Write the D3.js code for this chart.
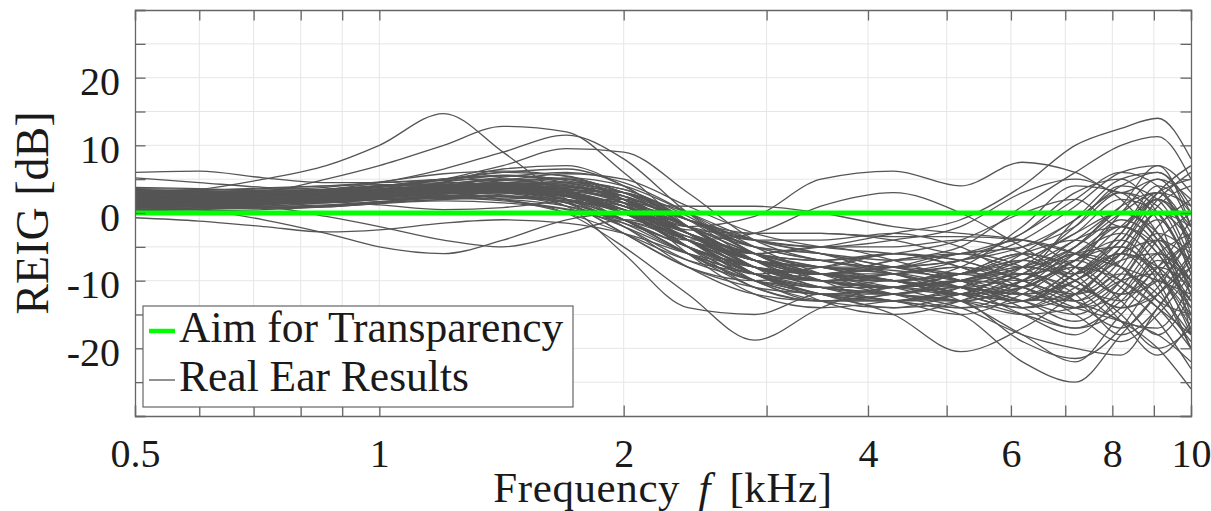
<!DOCTYPE html>
<html>
<head>
<meta charset="utf-8">
<script src="https://cdn.jsdelivr.net/npm/d3@7/dist/d3.min.js"></script>
<style>
    body { margin: 0; background: #fff; }
    text { font-family: "Liberation Serif", "Times New Roman", serif; }
</style>
</head>
<body>
<div id="chart"></div>
<script>
// Frequencies (kHz) where each ear curve is sampled
const freqKHz = [0.5, 0.6, 0.72, 0.86, 1.0, 1.2, 1.42, 1.7, 2.0, 2.4, 2.9, 3.5, 4.3, 5.2, 6.2, 7.2, 8.2, 9.1, 10];

const earCurves = [
    [3, 3.5, 5, 7, 10, 14.7, 9, 2, -3, -8, -10, -9, -10, -12, -11, -7, -5, -9, -15],
    [1.5, 2, 3, 5, 7, 10, 12.8, 12, 6, -2, -7, -8, -6, -8, -11, -6, -2, -5, -12],
    [2, 2.5, 3, 3.5, 4.5, 6.5, 9, 11.5, 8, 0, -6, -9, -8, -10, -8, -4, 0, -3, -10],
    [1, 1.5, 2, 2.5, 3.5, 5, 7, 9.5, 9, 3, -4, -7, -8, -6, -5, -2, 3, 1, -8],
    [6, 6.2, 5.2, 4.5, 4.5, 5, 6, 6.5, 4, -2, -6, -5, -7, -10, -13, -9, -4, 2, -4],
    [5.2, 4.5, 3.8, 3.5, 4, 5, 6, 5.5, 2, -4, -9, -11, -10, -12, -14, -10, -6, -9, -16],
    [-0.7, -1.2, -2, -2.8, -2.5, -1.5, -1, -1.5, -3, -6, -8, -9, -10, -13, -18, -22, -15, -10, -14],
    [1, 0.5, -1, -3, -5, -6, -4, -1, 0, -3, -9, -12, -13, -11, -9, -12, -18, -14, -6],
    [2, 1.5, 1, -0.5, -2, -4, -5, -3, -1, -4, -10, -13, -14, -12, -10, -6, -3, -8, -18],
    [2, 2.5, 3, 3.5, 4, 5, 5.5, 4.5, 2, -2, -0.5, 5, 6.2, 4, 7.5, 6, 3, 5, -2],
    [1.5, 1.8, 2, 2.5, 3, 3.5, 4, 3, 0, -4, -6, -5, -3, -1, 4, 10, 12.5, 14, 8],
    [2.5, 2.2, 2, 2.5, 3, 4, 4.5, 3, -1, -5, -8, -9, -7, -5, 1, 6, 10, 11.3, 5],
    [1.5, 1.5, 1.8, 2, 2.5, 3, 3, 2.5, 1.5, 1, 1, 0, -2, -3, -4, -6, -8, -10, -12],
    [2, 2, 2.2, 2.5, 3, 3.5, 3.5, 2.5, 0, -4, -3, 1, 3, 0, -5, -9, -4, 2, -2],
    [1, 1.2, 1.5, 2, 2.5, 3, 2, 0, -5, -12, -18.8, -14, -11, -12, -13, -9, -6, -8, -13],
    [2.5, 2.5, 2.3, 2.5, 3, 3.5, 3, 1, -6, -14, -15, -12, -13, -15, -12, -8, -10, -14, -20],
    [2, 2, 2.5, 3, 3.5, 4, 3.5, 2, -2, -7, -10, -12, -15, -20.5, -17, -12, -7, -6, -11],
    [1.5, 1.5, 1.8, 2, 2.5, 3, 3, 1.5, -3, -8, -11, -12, -13, -15, -22, -25, -18, -12, -8],
    [3, 3, 3.2, 3.5, 4, 4.5, 4, 2.5, -1, -6, -10, -11, -12, -13, -19, -21.5, -17, -9, -4],
    [2, 1.8, 1.5, 1.5, 2, 2.5, 2.5, 1, -2, -6, -9, -10, -9, -8, -10, -13, -16, -20, -26],
    [1.8, 2, 2.5, 3, 3, 3.5, 4, 3, 0, -5, -8, -10, -11, -10, -11, -14, -16, -18, -22],
    [2.8, 2.6, 2.4, 2.5, 3, 3, 2, 0, -3, -7, -9, -11, -12, -14, -18, -20, -21, -14, -8],
    [2, 2.2, 2.5, 3, 3.5, 4, 4, 3, 1, -4, -8, -10, -11, -10, -8, -5, 0, 3, -6],
    [3.5, 3.2, 3, 3, 3.5, 4, 4.5, 4, 2, -3, -7, -9, -9, -8, -11, -14, -12, -6, -3],
    [1, 1.2, 1.5, 2, 2, 2.5, 3, 2, -1, -6, -10, -12, -12, -11, -13, -16, -11, -4, 0],
    [2.5, 2.8, 3, 3.2, 3.5, 4, 5, 5, 3, -2, -7, -10, -9, -7, -3, 2, 6, 4, -5],
    [1.5, 1.5, 1.5, 1.8, 2, 2.2, 2.5, 1.5, -1, -5, -8, -9, -10, -11, -12, -10, -5, 2, 6],
    [0.5, 0.8, 1, 1.5, 2, 2.5, 3, 2.5, 0, -4, -9, -11, -12, -13, -11, -8, -13, -18, -12],
    [3, 3, 2.8, 2.5, 2.5, 3, 3.5, 3, 1, -3, -6, -8, -8, -9, -10, -7, -1, -5, -16],
    [2.2, 2.4, 2.6, 2.8, 3, 3.5, 4, 3.5, 2, -2, -5, -6, -7, -6, -4, -8, -12, -10, -4],
    [1.2, 1.4, 1.6, 2, 2.5, 3, 3.2, 2.5, 0.5, -3, -6, -8, -10, -12, -14, -12, -6, 0, -2],
    [2.6, 2.4, 2.2, 2.5, 3, 3.8, 4.2, 3.6, 1.5, -5, -11, -13, -12, -10, -7, -3, 2, 0, -9],
    [0.8, 1, 1.3, 1.8, 2.2, 2.8, 3, 2, -2, -8, -12, -13, -12, -11, -13, -15, -10, -2, 2],
    [3.2, 3.4, 3.6, 4, 4.5, 5, 5.5, 5, 3, -1, -4, -5, -5, -4, -6, -10, -14, -12, -7],
    [1.8, 1.6, 1.4, 1.6, 2, 2.5, 2.5, 1.5, -1.5, -6, -9, -10, -11, -12, -10, -6, -8, -13, -19],
    [2, 2.3, 2.8, 3.2, 3.6, 4, 3.8, 2.8, 0, -4, -7, -8, -9, -11, -13, -9, -3, 4, 0],
    [2.4, 2.5, 2.6, 2.8, 3, 3.2, 3.5, 3, 1, -3, -8, -11, -13, -14, -11, -5, 1, 7, 3],
    [1.4, 1.6, 2, 2.4, 2.8, 3.5, 4, 3.5, 1.5, -2, -6, -9, -10, -9, -7, -11, -16, -17, -10],
    [3.8, 3.6, 3.3, 3, 3, 3.5, 4, 3.2, 0, -5, -9, -11, -11, -10, -12, -13, -9, -12, -18],
    [0.3, 0.5, 0.8, 1, 1.5, 2, 2.5, 2, 0, -3, -7, -9, -11, -13, -10, -4, -2, -6, -14],
    [2.8, 3, 3.2, 3.5, 4, 4.2, 4, 3, 0.5, -5, -10, -12, -11, -9, -6, -8, -12, -8, -1],
    [1.6, 1.8, 2, 2.2, 2.4, 2.8, 3.2, 2.6, 0.5, -3.5, -7, -8, -8.5, -10, -14, -17, -14, -7, -10],
    [2.2, 2, 1.8, 2, 2.5, 3, 3.6, 3.2, 2, -1, -5, -7, -9, -12, -14, -11, -6, -4, -12],
    [1, 1.3, 1.7, 2.2, 3, 3.8, 4.5, 4, 2, -3, -8, -10, -10, -9, -9, -12, -8, 1, 4],
    [3, 2.8, 2.5, 2.2, 2, 2.2, 2.5, 2, 0, -4, -8, -10, -12, -13, -15, -14, -10, -9, -13],
    [2.5, 2.6, 2.8, 3, 3.3, 3.6, 3.3, 2, -1, -6, -11, -13, -13, -12, -8, -2, 4, 2, -7],
    [1.7, 2, 2.4, 2.8, 3.2, 4, 5, 4.5, 2.5, -1, -4, -4, -3, -5, -9, -7, -2, -6, -13],
    [0.6, 0.8, 1.2, 1.6, 2, 2.2, 2, 1, -1, -4, -7, -9, -11, -10, -8, -10, -15, -20, -17],
    [3.4, 3.2, 3, 3.2, 3.4, 3.8, 4.2, 3.8, 2.5, -1, -3, -3, -4, -6, -3, 3, 5, 0, -8],
    [2, 2.2, 2.2, 2.4, 2.6, 3, 3.4, 3, 1, -4, -9, -12, -14, -13, -10, -7, -11, -16, -23],
    [1.3, 1.5, 1.9, 2.3, 2.7, 3.2, 3.6, 3, 0.5, -4, -8, -9, -8, -7, -4, 1, 6, 7, -2],
    [2.7, 2.9, 3.1, 3.3, 3.8, 4.4, 4.8, 4.2, 2, -2, -7, -10, -10, -8, -2, 4, 3, -3, -11],
    [1.9, 2.1, 2.3, 2.5, 2.8, 3.3, 3.9, 3.6, 1.5, -3, -7, -8, -10, -11, -9, -1, 5, 6, 0],
    [3.3, 3.1, 2.9, 2.9, 3.1, 3.5, 3.8, 3.2, 1, -3, -6, -7, -6, -4, 0, 2, -2, 3, 5],
    [0.9, 1.1, 1.4, 1.9, 2.4, 3, 3.4, 2.7, 0, -5, -10, -13, -13, -11, -6, -1, 3, -1, -18],
    [2, 2, 2, 2.2, 2.5, 3, 3.2, 2.5, 0, -2.5, -3, -3, -3.5, -3.5, -4, -6, -10, -14, -18],
    [1.2, 1.0, 0.8, 1, 1.5, 2, 2.2, 1.8, 0.5, -2, -4, -5, -4, -2, 3, 5, 2, -4, -10],
    [0.4, 0.6, 1.2, 2, 2.8, 4.5, 5.5, 5, 2, -4, -9, -8, -6, -7, -10, -13, -9, -3, -6],
    [2.9, 3.1, 3.4, 3.8, 4.6, 5.8, 6.2, 5.4, 3, -1, -5, -6, -8, -9, -7, -10, -14, -11, -3],
    [1.1, 0.9, 0.7, 0.9, 1.5, 2.8, 3.8, 4.5, 3.5, -1, -7, -11, -12, -10, -11, -15, -19, -15, -9],
    [2.3, 2.1, 1.9, 1.7, 1.2, 0.5, 0.8, 1.8, 2, -2, -8, -10, -9, -11, -15, -18, -12, -6, -10],
    [3.6, 3.5, 3.3, 3.1, 3.2, 3.6, 4.4, 5.2, 4, 0, -5, -9, -12, -14, -13, -8, -2, 2, -5],
    [0.2, 0.3, 0.5, 0.9, 1.4, 1.8, 1.5, 0.5, -1.5, -5, -9, -12, -13, -13, -15, -17, -13, -8, -11],
    [1.5, 1.7, 2.1, 2.6, 3.3, 4.2, 5.3, 6, 4.5, 0, -6, -9, -10, -12, -11, -7, -4, -9, -17],
    [2.6, 2.6, 2.7, 3, 3.8, 4.8, 5, 3.5, 0, -4, -7, -8, -10, -9, -6, -4, -8, -13, -15],
    [1.9, 1.8, 1.7, 1.9, 2.3, 2.6, 2.4, 1.6, 0.5, -3, -8, -13, -15, -13, -9, -6, -5, -10, -20],
    [3.1, 3.3, 3.7, 4, 4.2, 4, 3.5, 3.8, 3, -1, -5, -7, -8, -7, -5, -1, 4, 6, 1],
    [0.7, 1, 1.4, 1.8, 2.1, 2.3, 2.8, 3.4, 3, -1, -6, -10, -13, -12, -9, -11, -13, -8, -4],
    [2.1, 2.3, 2.6, 2.9, 3.4, 4.6, 6.5, 7, 4, -2, -7, -9, -7, -6, -8, -5, 1, 3, -3],
    [1.4, 1.2, 1, 1.2, 1.7, 2.2, 1.8, 0.6, -1, -3.5, -6, -7, -6, -8, -12, -14, -10, -4, -7],
    [3, 2.9, 2.8, 3.1, 3.9, 4.9, 5.6, 4.8, 2.5, -3, -9, -12, -11, -9, -6, -9, -16, -21, -16],
    [0.9, 1.2, 1.7, 2.4, 3, 3.3, 3.1, 2.4, 1, -2, -6, -8, -9, -11, -13, -12, -5, 3, 7],
    [2.4, 2.2, 2.1, 2.3, 2.9, 3.7, 4.4, 4, 1.5, -6, -12, -14, -13, -12, -13, -10, -6, -11, -20],
    [1.7, 1.9, 2.2, 2.7, 3.2, 3.9, 4.8, 5.8, 5, 1, -3, -5, -6, -7, -10, -12, -7, 0, -4],
    [3.3, 3, 2.7, 2.5, 2.6, 2.9, 3.1, 2.7, 1.5, -1, -4, -6, -9, -11, -12, -8, 0, 5, 2],
    [0.5, 0.6, 0.8, 1.1, 1.6, 2.4, 3.4, 4, 2, -3, -8, -10, -11, -9, -7, -3, 0, -4, -15],
    [2.0, 2.4, 2.9, 3.3, 3.5, 3.4, 3.2, 3.4, 2.5, -2, -7, -9, -8, -6, -8, -13, -17, -12, -6],
    [1.3, 1.4, 1.5, 1.7, 2.2, 3.1, 4.1, 4.3, 3, 0, -4, -6, -8, -10, -12, -10, -6, -1, -9],
    [2.8, 2.7, 2.5, 2.4, 2.6, 3.3, 4.2, 4.6, 3.5, -0.5, -6, -10, -11, -10, -8, -9, -3, 3, 1]
];

// Target line: 0 dB over the whole band
const aimFreqs = [0.5, 10];
const aimValues = [0, 0];

const xMajorTicks = [0.5, 1, 2, 4, 6, 8, 10];
const xMinorTicks = [0.6, 0.7, 0.8, 0.9, 3, 5, 7, 9];
const yLabelTicks = [-20, -10, 0, 10, 20];
const yAllTicks = [-30, -25, -20, -15, -10, -5, 0, 5, 10, 15, 20, 25, 30];
const legendLabels = ["Aim for Transparency", "Real Ear Results"];

const width = 1211, height = 511;
const plot = { left: 135, right: 1191, top: 10, bottom: 416 };
const tickLen = 10.5;
const axisColor = "#666";
const gridColor = "#e6e6e6";
const earColor = "#555555";
const aimColor = "#00ff00";
const textColor = "#1a1a1a";
const fontStack = '"Liberation Serif", "Times New Roman", serif';

const svg = d3.select("#chart")
    .append("svg")
    .attr("width", width)
    .attr("height", height)
    .style("background", "#fff");

const x = d3.scaleLog().domain([0.5, 10]).range([plot.left, plot.right]);
const y = d3.scaleLinear().domain([-30, 30]).range([plot.bottom, plot.top]);

const allX = xMajorTicks.concat(xMinorTicks);

// grid
svg.append("g")
    .selectAll("line")
    .data(allX.filter(v => v > 0.5 && v < 10))
    .join("line")
    .attr("x1", d => x(d)).attr("x2", d => x(d))
    .attr("y1", plot.top).attr("y2", plot.bottom)
    .attr("stroke", gridColor).attr("stroke-width", 1);

svg.append("g")
    .selectAll("line")
    .data(yAllTicks.filter(v => v > -30 && v < 30))
    .join("line")
    .attr("x1", plot.left).attr("x2", plot.right)
    .attr("y1", d => y(d)).attr("y2", d => y(d))
    .attr("stroke", gridColor).attr("stroke-width", 1);

// clip for the curves
svg.append("clipPath").attr("id", "plotClip")
    .append("rect")
    .attr("x", plot.left).attr("y", plot.top)
    .attr("width", plot.right - plot.left)
    .attr("height", plot.bottom - plot.top);

const line = d3.line()
    .x(d => x(d[0]))
    .y(d => y(d[1]))
    .curve(d3.curveMonotoneX);

const curvesG = svg.append("g").attr("clip-path", "url(#plotClip)");

curvesG.selectAll("path.ear")
    .data(earCurves)
    .join("path")
    .attr("class", "ear")
    .attr("d", vals => line(vals.map((v, i) => [freqKHz[i], v])))
    .attr("fill", "none")
    .attr("stroke", earColor)
    .attr("stroke-width", 1.3);

curvesG.append("path")
    .attr("d", line(aimValues.map((v, i) => [aimFreqs[i], v])))
    .attr("fill", "none")
    .attr("stroke", aimColor)
    .attr("stroke-width", 5);

// axes (ticks point inward, box on)
const bottomAxis = svg.append("g")
    .attr("transform", `translate(0,${plot.bottom})`)
    .call(d3.axisBottom(x).tickValues(allX).tickSize(-tickLen).tickPadding(0)
        .tickFormat(d => xMajorTicks.includes(d) ? String(d) : ""));
const topAxis = svg.append("g")
    .attr("transform", `translate(0,${plot.top})`)
    .call(d3.axisTop(x).tickValues(allX).tickSize(-tickLen).tickFormat(""));
const leftAxis = svg.append("g")
    .attr("transform", `translate(${plot.left},0)`)
    .call(d3.axisLeft(y).tickValues(yAllTicks).tickSize(-tickLen).tickPadding(0)
        .tickFormat(d => yLabelTicks.includes(d) ? d : ""));
const rightAxis = svg.append("g")
    .attr("transform", `translate(${plot.right},0)`)
    .call(d3.axisRight(y).tickValues(yAllTicks).tickSize(-tickLen).tickFormat(""));

[bottomAxis, topAxis, leftAxis, rightAxis].forEach(g => {
    g.attr("font-family", fontStack);
    g.select(".domain").attr("stroke", axisColor).attr("stroke-width", 1.3);
    g.selectAll(".tick line").attr("stroke", axisColor).attr("stroke-width", 1.3);
});

bottomAxis.selectAll(".tick text")
    .attr("y", 51)
    .attr("dy", null)
    .style("font-size", "40px")
    .attr("fill", textColor);

leftAxis.selectAll(".tick text")
    .attr("x", -15)
    .attr("dy", "17px")
    .style("font-size", "40px")
    .attr("fill", textColor);

// axis titles
const xTitle = svg.append("text")
    .attr("x", (plot.left + plot.right) / 2)
    .attr("y", 502)
    .attr("text-anchor", "middle")
    .style("font-size", "43px")
    .style("letter-spacing", "0.6px")
    .attr("fill", textColor);
xTitle.append("tspan").text("Frequency ");
xTitle.append("tspan").attr("dx", 7).style("font-style", "italic").text("f");
xTitle.append("tspan").attr("dx", 7).text(" [kHz]");

svg.append("text")
    .attr("transform", `translate(48,${(plot.top + plot.bottom) / 2}) rotate(-90)`)
    .attr("text-anchor", "middle")
    .style("font-size", "46px")
    .attr("fill", textColor)
    .text("REIG [dB]");

// legend
const legend = svg.append("g");
legend.append("rect")
    .attr("x", 143).attr("y", 306)
    .attr("width", 430).attr("height", 101)
    .attr("fill", "#fff")
    .attr("stroke", axisColor)
    .attr("stroke-width", 1.2);

const legendStyles = [
    { color: aimColor, w: 4.5 },
    { color: earColor, w: 1.3 }
];
legendLabels.forEach((lab, i) => {
    const cy = 331 + i * 49;
    legend.append("line")
        .attr("x1", 149).attr("x2", 175)
        .attr("y1", cy).attr("y2", cy)
        .attr("stroke", legendStyles[i].color)
        .attr("stroke-width", legendStyles[i].w);
    legend.append("text")
        .attr("x", 179)
        .attr("y", cy + 11)
        .style("font-size", "43.5px")
        .attr("fill", textColor)
        .text(lab);
});
</script>
</body>
</html>
